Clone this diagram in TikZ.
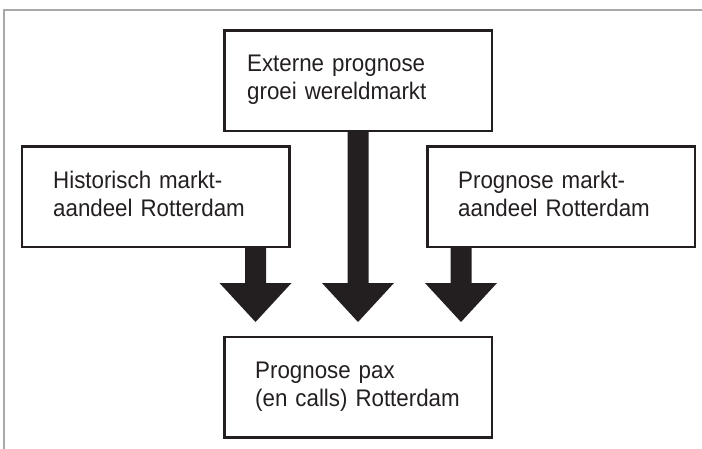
\documentclass[tikz,border=0pt]{standalone}
\usepackage{fontspec}
\setmainfont[FakeStretch=0.93]{Liberation Sans}
\usetikzlibrary{calc}
\definecolor{ink}{HTML}{231F20}
\definecolor{framegray}{HTML}{A8A8A8}
\newcommand\blkarrow[2]{%
  \fill[arrowfill] ($(#1)+(-10.5,0)$) -- ($(#2)+(-10.5,-39)$) -- ($(#2)+(-36,-39)$)
    -- (#2) -- ($(#2)+(36,-39)$) -- ($(#2)+(10.5,-39)$) -- ($(#1)+(10.5,0)$) -- cycle;}
\begin{document}
\begin{tikzpicture}[x=1pt,y=-1pt,
  box/.style={draw=ink, line width=2.5pt, minimum width=267.5pt, minimum height=100.5pt, inner sep=0pt},
  lbl/.style={anchor=base west, inner sep=0pt, text width=250pt, align=left, text=ink,
              font=\fontsize{24}{28}\selectfont},
  arrowfill/.style={fill=ink}]
\useasboundingbox (0,0) rectangle (702,448);
\draw[framegray, line width=1.6pt] (4,470) -- (4,10) -- (720,10);

\node[box] (ext)  at (358,80.5) {};
\node[box] (hist) at (155.5,196.5) {};
\node[box] (pmkt) at (561,196.5) {};
\node[box] (res)  at (358,387) {};

\node[lbl] (extL)  at (247,71)    {Externe prognose\\groei wereldmarkt};
\node[lbl] (histL) at (53,188)    {Historisch markt-\\aandeel Rotterdam};
\node[lbl] (pmktL) at (458,188)   {Prognose markt-\\aandeel Rotterdam};
\node[lbl] (resL)  at (255,378.5) {Prognose pax\\(en calls) Rotterdam};

\coordinate (tipL) at (255.5,322);
\coordinate (tipC) at (358,322);
\coordinate (tipR) at (461,322);
\coordinate (sL) at (hist.south -| tipL);
\coordinate (sC) at (ext.south -| tipC);
\coordinate (sR) at (pmkt.south -| tipR);
\blkarrow{sL}{tipL}
\blkarrow{sC}{tipC}
\blkarrow{sR}{tipR}
\end{tikzpicture}
\end{document}
